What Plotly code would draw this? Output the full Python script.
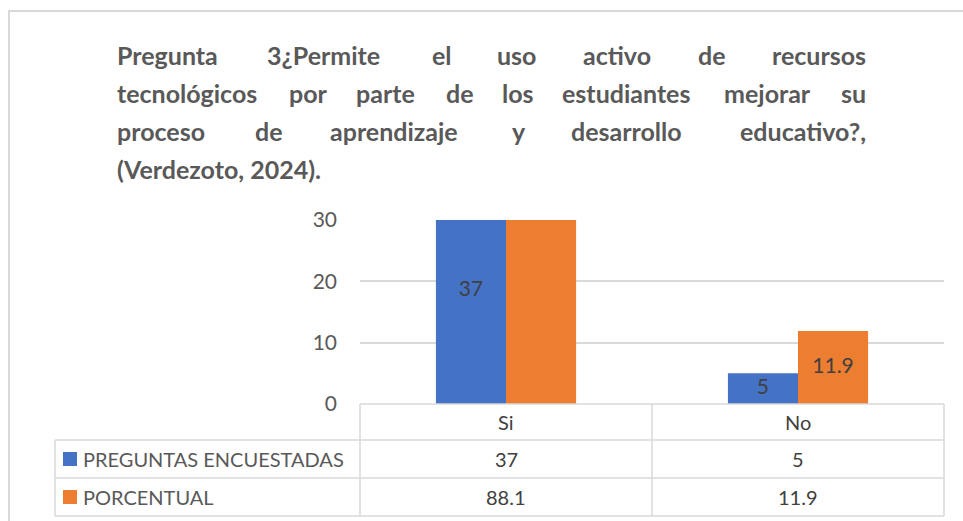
import plotly.graph_objects as go

W, H = 963, 521

categorias = ["Si", "No"]
series = ["PREGUNTAS ENCUESTADAS", "PORCENTUAL"]
preguntas_encuestadas = [37, 5]
porcentual = [88.1, 11.9]
colores = ["#4472C4", "#ED7D31"]
y_ticks = [0, 10, 20, 30]

titulo = [
    "Pregunta 3¿Permite el uso activo de recursos",
    "tecnológicos por parte de los estudiantes mejorar su",
    "proceso de aprendizaje y desarrollo educativo?,",
    "(Verdezoto, 2024).",
]

GRIS = "#D9D9D9"
TXT = "#404040"
TXT2 = "#595959"


def px(x):
    return x / W


def py(y):
    return 1 - y / H


# anchos aproximados (Calibri bold, /1000 em) para justificar el título
ANCHO = {
    "a": 494, "b": 537, "c": 418, "d": 537, "e": 503, "g": 474, "i": 246,
    "j": 255, "l": 246, "m": 813, "n": 537, "o": 537, "p": 537, "r": 355,
    "s": 399, "t": 347, "u": 537, "v": 474, "y": 474, "z": 397, "ó": 537,
    "P": 532, "3": 507, "¿": 463, "?": 463, ",": 258,
}


def ancho(palabra, em=28):
    return sum(ANCHO.get(c, 500) for c in palabra) * em / 1000


bar_w = 0.24
x_idx = list(range(len(categorias)))

fig = go.Figure()
valores = [preguntas_encuestadas, porcentual]
for k, (nombre, vals) in enumerate(zip(series, valores)):
    fig.add_trace(go.Bar(
        x=x_idx, y=vals, name=nombre, marker_color=colores[k],
        width=bar_w, offset=-bar_w if k == 0 else 0,
        marker_line_width=0, showlegend=False, hoverinfo="skip",
    ))
    # etiquetas de datos en el centro de cada barra
    fig.add_trace(go.Scatter(
        x=[i - bar_w / 2 if k == 0 else i + bar_w / 2 for i in x_idx],
        y=[v / 2 for v in vals],
        text=[str(v) for v in vals], mode="text",
        textfont=dict(size=21, color=TXT, family="Lato"),
        cliponaxis=True, showlegend=False, hoverinfo="skip",
    ))

fig.update_layout(
    width=W, height=H,
    margin=dict(l=0, r=0, t=0, b=0, autoexpand=False),
    paper_bgcolor="white", plot_bgcolor="white",
    font=dict(family="Lato", color=TXT2),
    xaxis=dict(domain=[px(360), px(944)], range=[-0.5, len(categorias) - 0.5],
               showticklabels=False, showgrid=False, zeroline=False,
               automargin=False, fixedrange=True),
    yaxis=dict(domain=[py(404), py(220)], range=[0, 30], tickvals=y_ticks,
               gridcolor=GRIS, gridwidth=1.5, zeroline=False, showline=False,
               tickfont=dict(size=21, color=TXT2, family="Lato"),
               ticklabelstandoff=22, automargin=False, fixedrange=True),
)

shapes = []
anns = []


def linea(x0, y0, x1, y1, w=1.5):
    shapes.append(dict(type="line", xref="paper", yref="paper",
                       x0=px(x0), y0=py(y0), x1=px(x1), y1=py(y1),
                       line=dict(color=GRIS, width=w)))


def texto(x, y, t, font, xanchor="center"):
    anns.append(dict(xref="paper", yref="paper", x=px(x), y=py(y), text=t,
                     showarrow=False, xanchor=xanchor, yanchor="middle", font=font))


# borde exterior del gráfico
shapes.append(dict(type="rect", xref="paper", yref="paper",
                   x0=px(9), y0=py(540), x1=px(990), y1=py(11),
                   line=dict(color=GRIS, width=2)))

# tabla de datos
col_x = [360, 652, 944]
filas_y = [404, 440, 478, 516]
linea(360, 404, 944, 404)
for y in filas_y[1:]:
    linea(55, y, 944, y)
for x in col_x:
    linea(x, 404, x, 516)
linea(55, 440, 55, 516)

f_tabla = dict(size=20, color=TXT, family="Lato")
for i, cat in enumerate(categorias):
    cx = (col_x[i] + col_x[i + 1]) / 2
    texto(cx, 422, cat, f_tabla)
    for r, vals in enumerate(valores):
        cy = (filas_y[r + 1] + filas_y[r + 2]) / 2
        texto(cx, cy, str(vals[i]), f_tabla)

for r, nombre in enumerate(series):
    cy = (filas_y[r + 1] + filas_y[r + 2]) / 2
    shapes.append(dict(type="rect", xref="paper", yref="paper",
                       x0=px(63), x1=px(77), y0=py(cy + 7), y1=py(cy - 7),
                       fillcolor=colores[r], line_width=0))
    texto(81, cy, nombre, dict(size=20, color=TXT2, family="Lato"), "left")

# título justificado, palabra por palabra
x_izq, x_der = 115, 868
f_titulo = dict(size=25, color=TXT2, family="Lato", weight="bold")
for n, linea_txt in enumerate(titulo):
    y = 55 + 38 * n
    palabras = linea_txt.split()
    if n == len(titulo) - 1:
        texto(x_izq, y, linea_txt, f_titulo, "left")
        continue
    anchos = [ancho(p) for p in palabras]
    hueco = (x_der - x_izq - sum(anchos)) / (len(palabras) - 1)
    x = x_izq
    for j, p in enumerate(palabras):
        if j == len(palabras) - 1:
            texto(x_der, y, p, f_titulo, "right")
        else:
            texto(x, y, p, f_titulo, "left")
        x += anchos[j] + hueco

fig.update_layout(shapes=shapes, annotations=anns)

fig.write_html("out.html", config={"displayModeBar": False},
               post_script="document.body.style.margin='0';")
